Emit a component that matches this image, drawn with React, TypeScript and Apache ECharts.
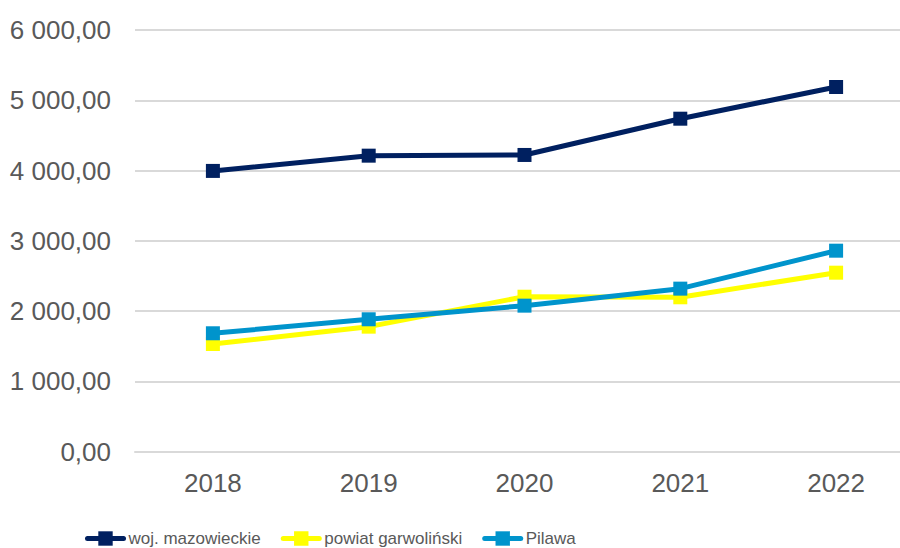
import React, { useEffect, useRef } from "react";
import * as echarts from "echarts";

const years = ["2018", "2019", "2020", "2021", "2022"];
const seriesNames = ["woj. mazowieckie", "powiat garwoliński", "Pilawa"];
const mazowieckie = [3995, 4212, 4222, 4738, 5189];
const garwolinski = [1532, 1779, 2205, 2197, 2547];
const pilawa = [1685, 1884, 2078, 2320, 2860];
const colors = ["#002060", "#FFFF00", "#0094CC"];

const fmt = (v: number) => {
  const s = v.toFixed(2).replace(".", ",");
  const [i, d] = s.split(",");
  return i.replace(/\B(?=(\d{3})+(?!\d))/g, " ") + "," + d;
};

export default function App() {
  const ref = useRef<HTMLDivElement>(null);
  useEffect(() => {
    if (!ref.current) return;
    const chart = echarts.init(ref.current, undefined, { renderer: "svg" });
    const font = "'Liberation Sans', Arial, sans-serif";
    const data = [mazowieckie, garwolinski, pilawa];
    chart.setOption({
      animation: false,
      backgroundColor: "#ffffff",
      grid: { left: 135, right: 0, top: 30, bottom: 96.3 },
      xAxis: {
        type: "category",
        data: years,
        boundaryGap: true,
        axisLine: { show: true, lineStyle: { color: "#D9D9D9", width: 2 } },
        axisTick: { show: false },
        axisLabel: { color: "#595959", fontSize: 26, fontFamily: font, margin: 18 },
      },
      yAxis: {
        type: "value",
        min: 0,
        max: 6000,
        interval: 1000,
        axisLine: { show: false },
        axisTick: { show: false },
        splitLine: { lineStyle: { color: "#D9D9D9", width: 2 } },
        axisLabel: {
          color: "#595959",
          fontSize: 26,
          fontFamily: font,
          margin: 24,
          formatter: (v: number) => fmt(v),
        },
      },
      legend: {
        left: 80,
        top: 525,
        itemWidth: 36,
        itemHeight: 18,
        itemGap: 20,
        lineStyle: { width: 5, cap: "round" },
        textStyle: { color: "#595959", fontSize: 17, fontFamily: font },
        data: seriesNames,
      },
      series: seriesNames.map((name, i) => ({
        name,
        type: "line",
        data: data[i],
        symbol: "rect",
        symbolSize: 14,
        color: colors[i],
        lineStyle: { width: 5, color: colors[i] },
        itemStyle: { color: colors[i] },
        z: 2 + i,
      })),
    });
    return () => chart.dispose();
  }, []);
  return (
    <div style={{ position: "fixed", left: 0, top: 0, width: 900, height: 548, overflow: "hidden" }}>
      <div ref={ref} style={{ width: 914, height: 548 }} />
    </div>
  );
}
